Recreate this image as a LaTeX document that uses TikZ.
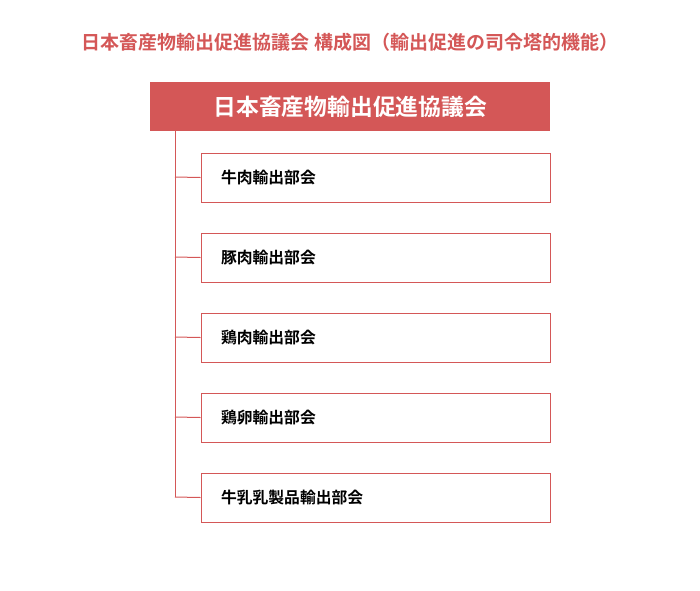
\documentclass[tikz,border=0pt]{standalone}
\usepackage{fontspec}
\newfontfamily\jp{Noto Sans CJK JP}[BoldFont={Noto Sans CJK JP Bold}]
\definecolor{orgred}{HTML}{D45757}
\begin{document}
\begin{tikzpicture}[x=1pt,y=-1pt,
  headbox/.style={fill=orgred,draw=none,minimum width=400pt,minimum height=49pt,inner sep=0pt,text=white,font=\jp\bfseries\fontsize{22.8}{26}\selectfont},
  subbox/.style={draw=orgred,line width=1pt,fill=white,minimum width=349pt,minimum height=49pt,inner sep=0pt,anchor=north west,text width=309pt,align=left,font=\jp\bfseries\fontsize{15.8}{19}\selectfont},
  link/.style={draw=orgred,line width=1pt}]
\useasboundingbox (0,0) rectangle (700,590);
\node[text=orgred,font=\jp\bfseries\fontsize{19}{22}\selectfont] (title) at (350,42) {日本畜産物輸出促進協議会 構成図（輸出促進の司令塔的機能）};
\node[headbox,anchor=north west] (head) at (150,82) {日本畜産物輸出促進協議会};
\coordinate (trunk) at (175,131);
\foreach \t [count=\i] in {牛肉輸出部会,豚肉輸出部会,鶏肉輸出部会,鶏卵輸出部会,牛乳乳製品輸出部会}{
  \node[subbox] (s\i) at (200.5,{152.5+80*(\i-1)}) {\t};
  \coordinate (j\i) at (175,{177+80*(\i-1)});
  \draw[link] (j\i) -- (s\i.west);
}
\draw[link] (trunk) -- (j5);
\end{tikzpicture}
\end{document}
